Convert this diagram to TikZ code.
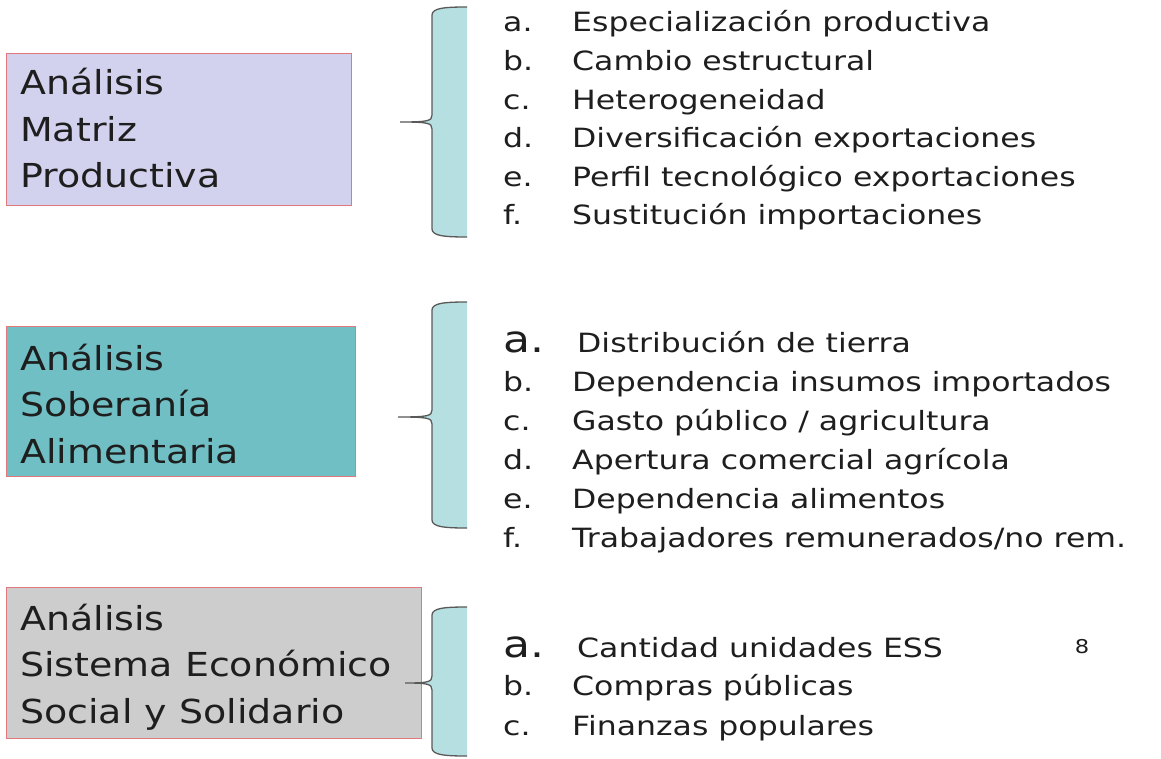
\documentclass[tikz,border=0pt]{standalone}
\usepackage{fontspec}
\setmainfont{DejaVu Sans}[FakeStretch=1.19]
\newfontfamily\titulofont{DejaVu Sans}[FakeStretch=1.15]
\usetikzlibrary{positioning}

\definecolor{lavanda}{RGB}{210,210,239}
\definecolor{turquesa}{RGB}{112,191,196}
\definecolor{gris}{RGB}{205,205,205}
\definecolor{borde}{RGB}{224,120,125}
\definecolor{celeste}{RGB}{182,223,226}
\definecolor{tinta}{RGB}{30,30,30}

% llave: #1 arriba, #2 abajo, #3 punta y, #4 punta x
\newcommand{\llave}[4]{%
  \fill[celeste] (467,#1) .. controls (445,#1) and (432,{#1+1}) .. (432,{#1+8})
    -- (432,{#3-7}) .. controls (432,{#3-1}) and (428,#3) .. (#4,#3)
    .. controls (428,#3) and (432,{#3+1}) .. (432,{#3+7})
    -- (432,{#2-8}) .. controls (432,{#2-1}) and (445,#2) .. (467,#2) -- cycle;
  \draw[linea] (467,#1) .. controls (445,#1) and (432,{#1+1}) .. (432,{#1+8})
    -- (432,{#3-7}) .. controls (432,{#3-1}) and (428,#3) .. (#4,#3)
    .. controls (428,#3) and (432,{#3+1}) .. (432,{#3+7})
    -- (432,{#2-8}) .. controls (432,{#2-1}) and (445,#2) .. (467,#2);
}

\begin{document}
\begin{tikzpicture}[x=1pt, y=-1pt,
    caja/.style={draw=borde, line width=1.2pt, anchor=north west, inner sep=0pt},
    titulo/.style={anchor=base west, align=left, inner sep=0pt, text=tinta,
      font=\titulofont\fontsize{33}{46.5}\selectfont},
    letra/.style={anchor=base west, inner sep=0pt, text=tinta,
      font=\fontsize{26.5}{30}\selectfont},
    letrag/.style={letra, font=\fontsize{37}{40}\selectfont},
    item/.style={anchor=base west, inner sep=0pt, text=tinta,
      font=\fontsize{26.5}{30}\selectfont},
    linea/.style={draw=black!65, line width=1.3pt}]
  \useasboundingbox (0,0) rectangle (1161,759);

  % cajas
  \node[caja, fill=lavanda, minimum width=345pt, minimum height=152pt] (matriz) at (6,53) {};
  \node[caja, fill=turquesa, minimum width=349pt, minimum height=150pt] (soberania) at (6,326) {};
  \node[caja, fill=gris, minimum width=415pt, minimum height=151pt] (sistema) at (6,587) {};

  % el ancla base cae en la ultima linea
  \node[titulo] (tmatriz) at (20,188) {Análisis\\Matriz\\Productiva};
  \node[titulo] (tsoberania) at (20,463) {Análisis\\Soberanía\\Alimentaria};
  \node[titulo] (tsistema) at (20,723) {Análisis\\Sistema Económico\\Social y Solidario};

  % llaves
  \llave{7}{237}{122}{400}
  \llave{302}{528}{417}{398}
  \llave{607}{756}{683}{405}

  % lista 1
  \foreach \l/\t/\y in {a/{Especialización productiva}/32, b/{Cambio estructural}/71,
      c/{Heterogeneidad}/110, d/{Diversificación exportaciones}/148,
      e/{Perfil tecnológico exportaciones}/187, f/{Sustitución importaciones}/225}{
    \node[letra] (l1\l) at (503,\y) {\l.};
    \node[item] (i1\l) at (572,\y) {\t};
  }

  % lista 2
  \node[letrag] (l2a) at (503,352) {a.};
  \node[item] (i2a) at (577,352) {Distribución de tierra};
  \foreach \l/\t/\y in {b/{Dependencia insumos importados}/391,
      c/{Gasto público / agricultura}/430, d/{Apertura comercial agrícola}/469,
      e/{Dependencia alimentos}/508, f/{Trabajadores remunerados/no rem.}/547}{
    \node[letra] (l2\l) at (503,\y) {\l.};
    \node[item] (i2\l) at (572,\y) {\t};
  }

  % lista 3
  \node[letrag] (l3a) at (503,657) {a.};
  \node[item] (i3a) at (577,657) {Cantidad unidades ESS};
  \node[letra] (l3b) at (503,695) {b.};
  \node[item] (i3b) at (572,695) {Compras públicas};
  \node[letra] (l3c) at (503,735) {c.};
  \node[item] (i3c) at (572,735) {Finanzas populares};

  \node[anchor=base, inner sep=0pt, text=tinta, font=\fontsize{19}{22}\selectfont] (pagina) at (1082,653) {8};
\end{tikzpicture}
\end{document}
